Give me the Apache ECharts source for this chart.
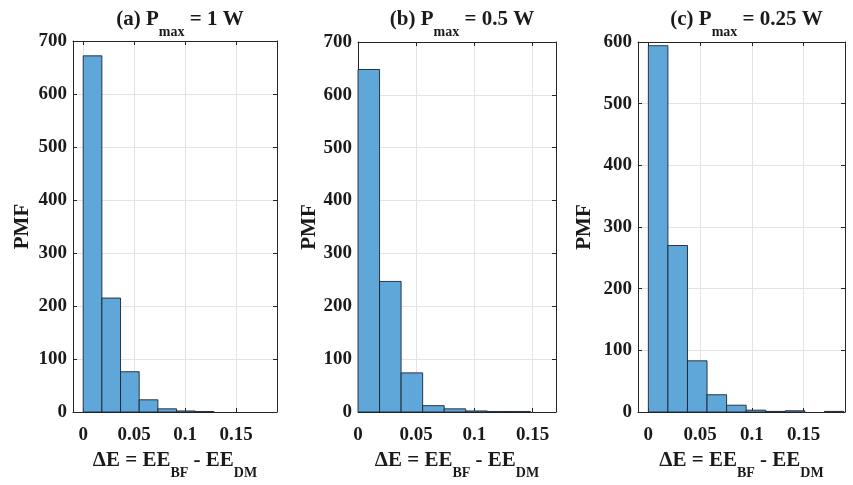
<!DOCTYPE html>
<html>
<head>
<meta charset="utf-8">
<script src="https://cdn.jsdelivr.net/npm/echarts@6/dist/echarts.min.js"></script>
<style>html,body{margin:0;padding:0;background:#fff;}#c{width:853px;height:485px;}</style>
</head>
<body>
<div id="c"></div>
<script>
// ---- data ----
const countsA = [672, 215, 76, 23, 6, 2, 1];
const binWidthA = 0.0183;
const countsB = [648, 247, 74, 12, 6, 2, 1, 1];
const binWidthB = 0.0185;
const countsC = [594, 270, 83, 28, 11, 3, 1, 2, 0, 1];
const binWidthC = 0.0189;
const titles = [["(a) P", "max", " = 1 W"], ["(b) P", "max", " = 0.5 W"], ["(c) P", "max", " = 0.25 W"]];
const xTicks = [0, 0.05, 0.1, 0.15];
const yLabel = "PMF";

const FONT = "Liberation Serif";
const panels = [
  {counts: countsA, bw: binWidthA, xmin: -0.01, xmax: 0.19, ymax: 700, left: 73, top: 41, width: 204, height: 376, nameGap: 40},
  {counts: countsB, bw: binWidthB, xmin: 0, xmax: 0.17, ymax: 700, left: 358, top: 42, width: 198, height: 374, nameGap: 38},
  {counts: countsC, bw: binWidthC, xmin: -0.01, xmax: 0.19, ymax: 600, left: 638, top: 42, width: 207, height: 373, nameGap: 43}
];

function histData(counts, bw) {
  return counts.map((c, i) => [i * bw, (i + 1) * bw, c]);
}

const lineStyle = {color: '#262626', width: 1};
const grid = [], xAxis = [], yAxis = [], series = [], title = [];
panels.forEach((p, k) => {
  grid.push({left: p.left, top: p.top, width: p.width, height: p.height, containLabel: false});
  const common = {type: 'value', min: p.xmin, max: p.xmax, gridIndex: k};
  xAxis.push(Object.assign({}, common, {
    position: 'bottom',
    axisLine: {show: true, onZero: false, lineStyle: lineStyle},
    axisTick: {show: true, inside: true, length: 4, customValues: xTicks, lineStyle: lineStyle},
    axisLabel: {show: true, customValues: xTicks, margin: 14, color: '#1a1a1a', fontFamily: FONT, fontWeight: 'bold', fontSize: 19,
      formatter: v => String(+v.toFixed(2))},
    splitLine: {show: true, lineStyle: {color: '#e3e3e3', width: 1}},
    name: '{n|ΔE = EE}{s|BF}{n| - EE}{s|DM}',
    nameLocation: 'middle', nameGap: 35,
    nameTextStyle: {rich: {
      n: {fontFamily: FONT, fontWeight: 'bold', fontSize: 21, color: '#1a1a1a', verticalAlign: 'bottom', lineHeight: 24},
      s: {fontFamily: FONT, fontWeight: 'bold', fontSize: 14, color: '#1a1a1a', verticalAlign: 'bottom', lineHeight: 14, padding: [0, 0, -9, 0]}
    }}
  }));
  xAxis.push(Object.assign({}, common, {
    position: 'top',
    axisLine: {show: true, onZero: false, lineStyle: lineStyle},
    axisTick: {show: true, inside: true, length: 4, customValues: xTicks, lineStyle: lineStyle},
    axisLabel: {show: false, customValues: xTicks},
    splitLine: {show: false}
  }));
  const ycommon = {type: 'value', min: 0, max: p.ymax, interval: 100, gridIndex: k};
  yAxis.push(Object.assign({}, ycommon, {
    position: 'left',
    axisLine: {show: true, onZero: false, lineStyle: lineStyle},
    axisTick: {show: true, inside: true, length: 4, lineStyle: lineStyle},
    axisLabel: {show: true, margin: 6, color: '#1a1a1a', fontFamily: FONT, fontWeight: 'bold', fontSize: 19},
    splitLine: {show: true, lineStyle: {color: '#e3e3e3', width: 1}},
    name: yLabel, nameLocation: 'middle', nameGap: p.nameGap, nameRotate: 90,
    nameTextStyle: {fontFamily: FONT, fontWeight: 'bold', fontSize: 21, color: '#1a1a1a'}
  }));
  yAxis.push(Object.assign({}, ycommon, {
    position: 'right',
    axisLine: {show: true, onZero: false, lineStyle: lineStyle},
    axisTick: {show: true, inside: true, length: 4, lineStyle: lineStyle},
    axisLabel: {show: false},
    splitLine: {show: false}
  }));
  series.push({
    type: 'custom',
    xAxisIndex: 2 * k, yAxisIndex: 2 * k,
    data: histData(p.counts, p.bw),
    renderItem: function (params, api) {
      const x0 = api.value(0), x1 = api.value(1), y = api.value(2);
      if (y <= 0) return null;
      const p0 = api.coord([x0, y]);
      const p1 = api.coord([x1, 0]);
      return {
        type: 'rect',
        shape: {x: p0[0], y: p0[1], width: p1[0] - p0[0], height: p1[1] - p0[1]},
        style: {fill: '#5fa6d9', stroke: '#1c2430', lineWidth: 0.9}
      };
    }
  });
  const t = titles[k];
  title.push({
    text: '{n|' + t[0] + '}{s|' + t[1] + '}{n|' + t[2] + '}',
    left: p.left + p.width / 2, top: 1, textAlign: 'center',
    textStyle: {rich: {
      n: {fontFamily: FONT, fontWeight: 'bold', fontSize: 21, color: '#1a1a1a', verticalAlign: 'bottom', lineHeight: 24},
      s: {fontFamily: FONT, fontWeight: 'bold', fontSize: 14, color: '#1a1a1a', verticalAlign: 'bottom', lineHeight: 14, padding: [0, 0, -9, 0]}
    }}
  });
});

const chart = echarts.init(document.getElementById('c'), null, {renderer: 'canvas'});
chart.setOption({
  animation: false,
  backgroundColor: '#ffffff',
  title: title,
  grid: grid,
  xAxis: xAxis,
  yAxis: yAxis,
  series: series
});
</script>
</body>
</html>
